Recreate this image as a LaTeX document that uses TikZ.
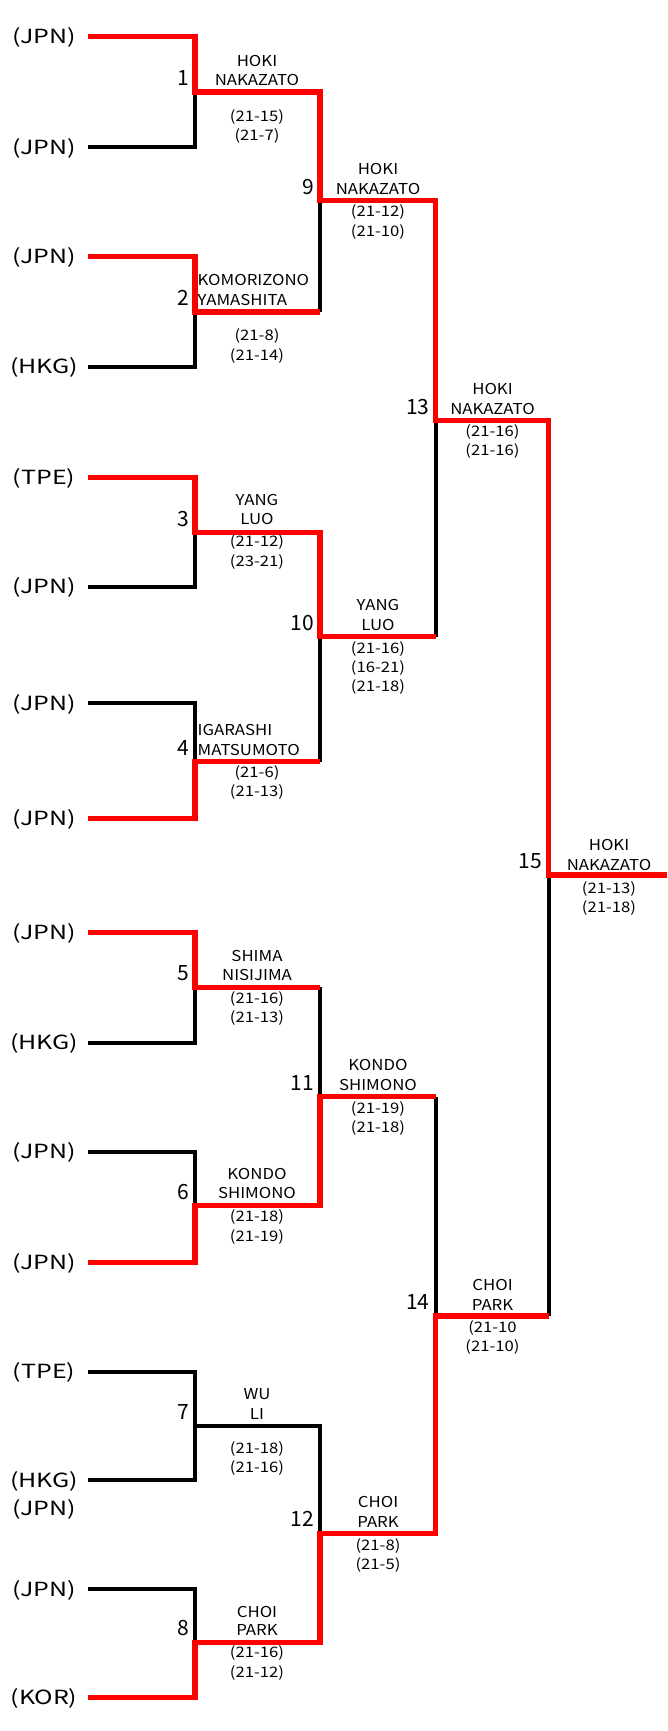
\documentclass[tikz,border=0pt]{standalone}
\usepackage{fontspec}
\newfontfamily\ctyfont[FakeStretch=1.28]{Noto Sans CJK JP}
\newfontfamily\namefont[FakeStretch=1.12]{Noto Sans CJK JP}
\newfontfamily\scfont[FakeStretch=1.15]{Noto Sans CJK JP}
\newfontfamily\numfont{Noto Sans CJK JP}
\tikzset{
  rd/.style={draw=red, line width=5.3pt, line join=miter},
  bk/.style={draw=black, line width=4pt, line join=miter},
  cty/.style={anchor=base, inner sep=0pt, font=\ctyfont\fontsize{19.5}{19.5}\selectfont},
  nm/.style={anchor=base, inner sep=0pt, font=\namefont\fontsize{15}{15}\selectfont},
  nml/.style={nm, anchor=base west},
  sc/.style={anchor=base, inner sep=0pt, font=\scfont\fontsize{14.5}{14.5}\selectfont},
  num/.style={anchor=base east, inner sep=0pt, font=\numfont\fontsize{21}{21}\selectfont},
}
\begin{document}
\begin{tikzpicture}[x=1pt,y=-1pt]
\useasboundingbox (0,0) rectangle (667,1731);
% entries
\foreach \i/\y/\t in {1/36.7/JPN,2/147.3/JPN,3/256.7/JPN,4/366.7/HKG,5/477.3/TPE,6/586.7/JPN,7/703.3/JPN,8/818.3/JPN,9/932.7/JPN,10/1042.7/HKG,11/1151.7/JPN,12/1262.3/JPN,13/1371.7/TPE,14/1480/HKG,15/1589/JPN,16/1697.7/KOR}{
  \coordinate (s\i) at (88.3,\y);
  \node[cty] (c\i) at (44,\y+7) {(\t)};
}
\node[cty] (c0) at (44,1515.8) {(JPN)};
% junctions
\coordinate (m1) at (195,92);
\coordinate (m2) at (195,312);
\coordinate (m3) at (195,532.7);
\coordinate (m4) at (195,761.7);
\coordinate (m5) at (195,987.3);
\coordinate (m6) at (195,1205.7);
\coordinate (m7) at (195,1425.7);
\coordinate (m8) at (195,1642.3);
\coordinate (m9) at (320,200.7);
\coordinate (m10) at (320,636.7);
\coordinate (m11) at (320,1096.7);
\coordinate (m12) at (320,1533.3);
\coordinate (m13) at (435.7,420.7);
\coordinate (m14) at (435.7,1316);
\coordinate (m15) at (548.5,875);
\coordinate (fin) at (667,875);
% losing (black) lines
\draw[bk] (s2) -| (m1);
\draw[bk] (s4) -| (m2);
\draw[bk] (m2 -| m9) -- (m9);
\draw[bk] (s6) -| (m3);
\draw[bk] (s7) -| (m4);
\draw[bk] (m4 -| m10) -- (m10);
\draw[bk] (m10 -| m13) -- (m13);
\draw[bk] (s10) -| (m5);
\draw[bk] (m5 -| m11) -- (m11);
\draw[bk] (s11) -| (m6);
\draw[bk] (m11 -| m14) -- (m14);
\draw[bk] (s13) -| (m7) -| (m12);
\draw[bk] (s14) -| (m7);
\draw[bk] (s15) -| (m8);
\draw[bk] (m14 -| m15) -- (m15);
% winning (red) lines
\draw[rd] (s1) -| (m1) -| (m9) -| (m13) -| (m15) -- (fin);
\draw[rd] (s3) -| (m2) -- (m2 -| m9);
\draw[rd] (s5) -| (m3) -| (m10) -- (m10 -| m13);
\draw[rd] (s8) -| (m4) -- (m4 -| m10);
\draw[rd] (s9) -| (m5) -- (m5 -| m11);
\draw[rd] (s12) -| (m6) -| (m11) -- (m11 -| m14);
\draw[rd] (s16) -| (m8) -| (m12) -| (m14) -- (m14 -| m15);
% match numbers
\foreach \i in {1,...,15}{
  \node[num] (k\i) at ([xshift=-6pt,yshift=6.5pt]m\i) {\i};
}
% match 1
\node[nm] (n1a) at (257,66.2) {HOKI};
\node[nm] (n1b) at (257,85.5) {NAKAZATO};
\node[sc] (r1a) at (257,121.2) {(21-15)};
\node[sc] (r1b) at (257,140.2) {(21-7)};
% match 2
\node[nml] (n2a) at (197.5,285.5) {KOMORIZONO};
\node[nml] (n2b) at (197.5,305.5) {YAMASHITA};
\node[sc] (r2a) at (257,340.2) {(21-8)};
\node[sc] (r2b) at (257,360.2) {(21-14)};
% match 3
\node[nm] (n3a) at (257,505.5) {YANG};
\node[nm] (n3b) at (257,524.8) {LUO};
\node[sc] (r3a) at (257,546.9) {(21-12)};
\node[sc] (r3b) at (257,566.9) {(23-21)};
% match 4
\node[nml] (n4a) at (197.5,735.5) {IGARASHI};
\node[nml] (n4b) at (197.5,755.5) {MATSUMOTO};
\node[sc] (r4a) at (257,777.9) {(21-6)};
\node[sc] (r4b) at (257,796.9) {(21-13)};
% match 5
\node[nm] (n5a) at (257,961.5) {SHIMA};
\node[nm] (n5b) at (257,980.5) {NISIJIMA};
\node[sc] (r5a) at (257,1003.5) {(21-16)};
\node[sc] (r5b) at (257,1022.9) {(21-13)};
% match 6
\node[nm] (n6a) at (257,1179.5) {KONDO};
\node[nm] (n6b) at (257,1198.8) {SHIMONO};
\node[sc] (r6a) at (257,1221.9) {(21-18)};
\node[sc] (r6b) at (257,1241.2) {(21-19)};
% match 7
\node[nm] (n7a) at (257,1399.8) {WU};
\node[nm] (n7b) at (257,1419.8) {LI};
\node[sc] (r7a) at (257,1453.5) {(21-18)};
\node[sc] (r7b) at (257,1472.9) {(21-16)};
% match 8
\node[nm] (n8a) at (257,1617.2) {CHOI};
\node[nm] (n8b) at (257,1635.5) {PARK};
\node[sc] (r8a) at (257,1657.9) {(21-16)};
\node[sc] (r8b) at (257,1677.9) {(21-12)};
% match 9
\node[nm] (n9a) at (378,174.8) {HOKI};
\node[nm] (n9b) at (378,194.8) {NAKAZATO};
\node[sc] (r9a) at (378,216.9) {(21-12)};
\node[sc] (r9b) at (378,236.9) {(21-10)};
% match 10
\node[nm] (n10a) at (378,610.5) {YANG};
\node[nm] (n10b) at (378,630.5) {LUO};
\node[sc] (r10a) at (378,653.5) {(21-16)};
\node[sc] (r10b) at (378,672.5) {(16-21)};
\node[sc] (r10c) at (378,691.9) {(21-18)};
% match 11
\node[nm] (n11a) at (378,1070.5) {KONDO};
\node[nm] (n11b) at (378,1090.5) {SHIMONO};
\node[sc] (r11a) at (378,1113.5) {(21-19)};
\node[sc] (r11b) at (378,1132.5) {(21-18)};
% match 12
\node[nm] (n12a) at (378,1507.2) {CHOI};
\node[nm] (n12b) at (378,1527.2) {PARK};
\node[sc] (r12a) at (378,1550.2) {(21-8)};
\node[sc] (r12b) at (378,1569.2) {(21-5)};
% match 13
\node[nm] (n13a) at (492.5,394.8) {HOKI};
\node[nm] (n13b) at (492.5,414.8) {NAKAZATO};
\node[sc] (r13a) at (492.5,436.9) {(21-16)};
\node[sc] (r13b) at (492.5,455.9) {(21-16)};
% match 14
\node[nm] (n14a) at (492.5,1290.5) {CHOI};
\node[nm] (n14b) at (492.5,1310.5) {PARK};
\node[sc] (r14a) at (492.5,1332.9) {(21-10};
\node[sc] (r14b) at (492.5,1351.9) {(21-10)};
% match 15
\node[nm] (n15a) at (609,850.5) {HOKI};
\node[nm] (n15b) at (609,870.5) {NAKAZATO};
\node[sc] (r15a) at (609,893.5) {(21-13)};
\node[sc] (r15b) at (609,912.5) {(21-18)};
\end{tikzpicture}
\end{document}
